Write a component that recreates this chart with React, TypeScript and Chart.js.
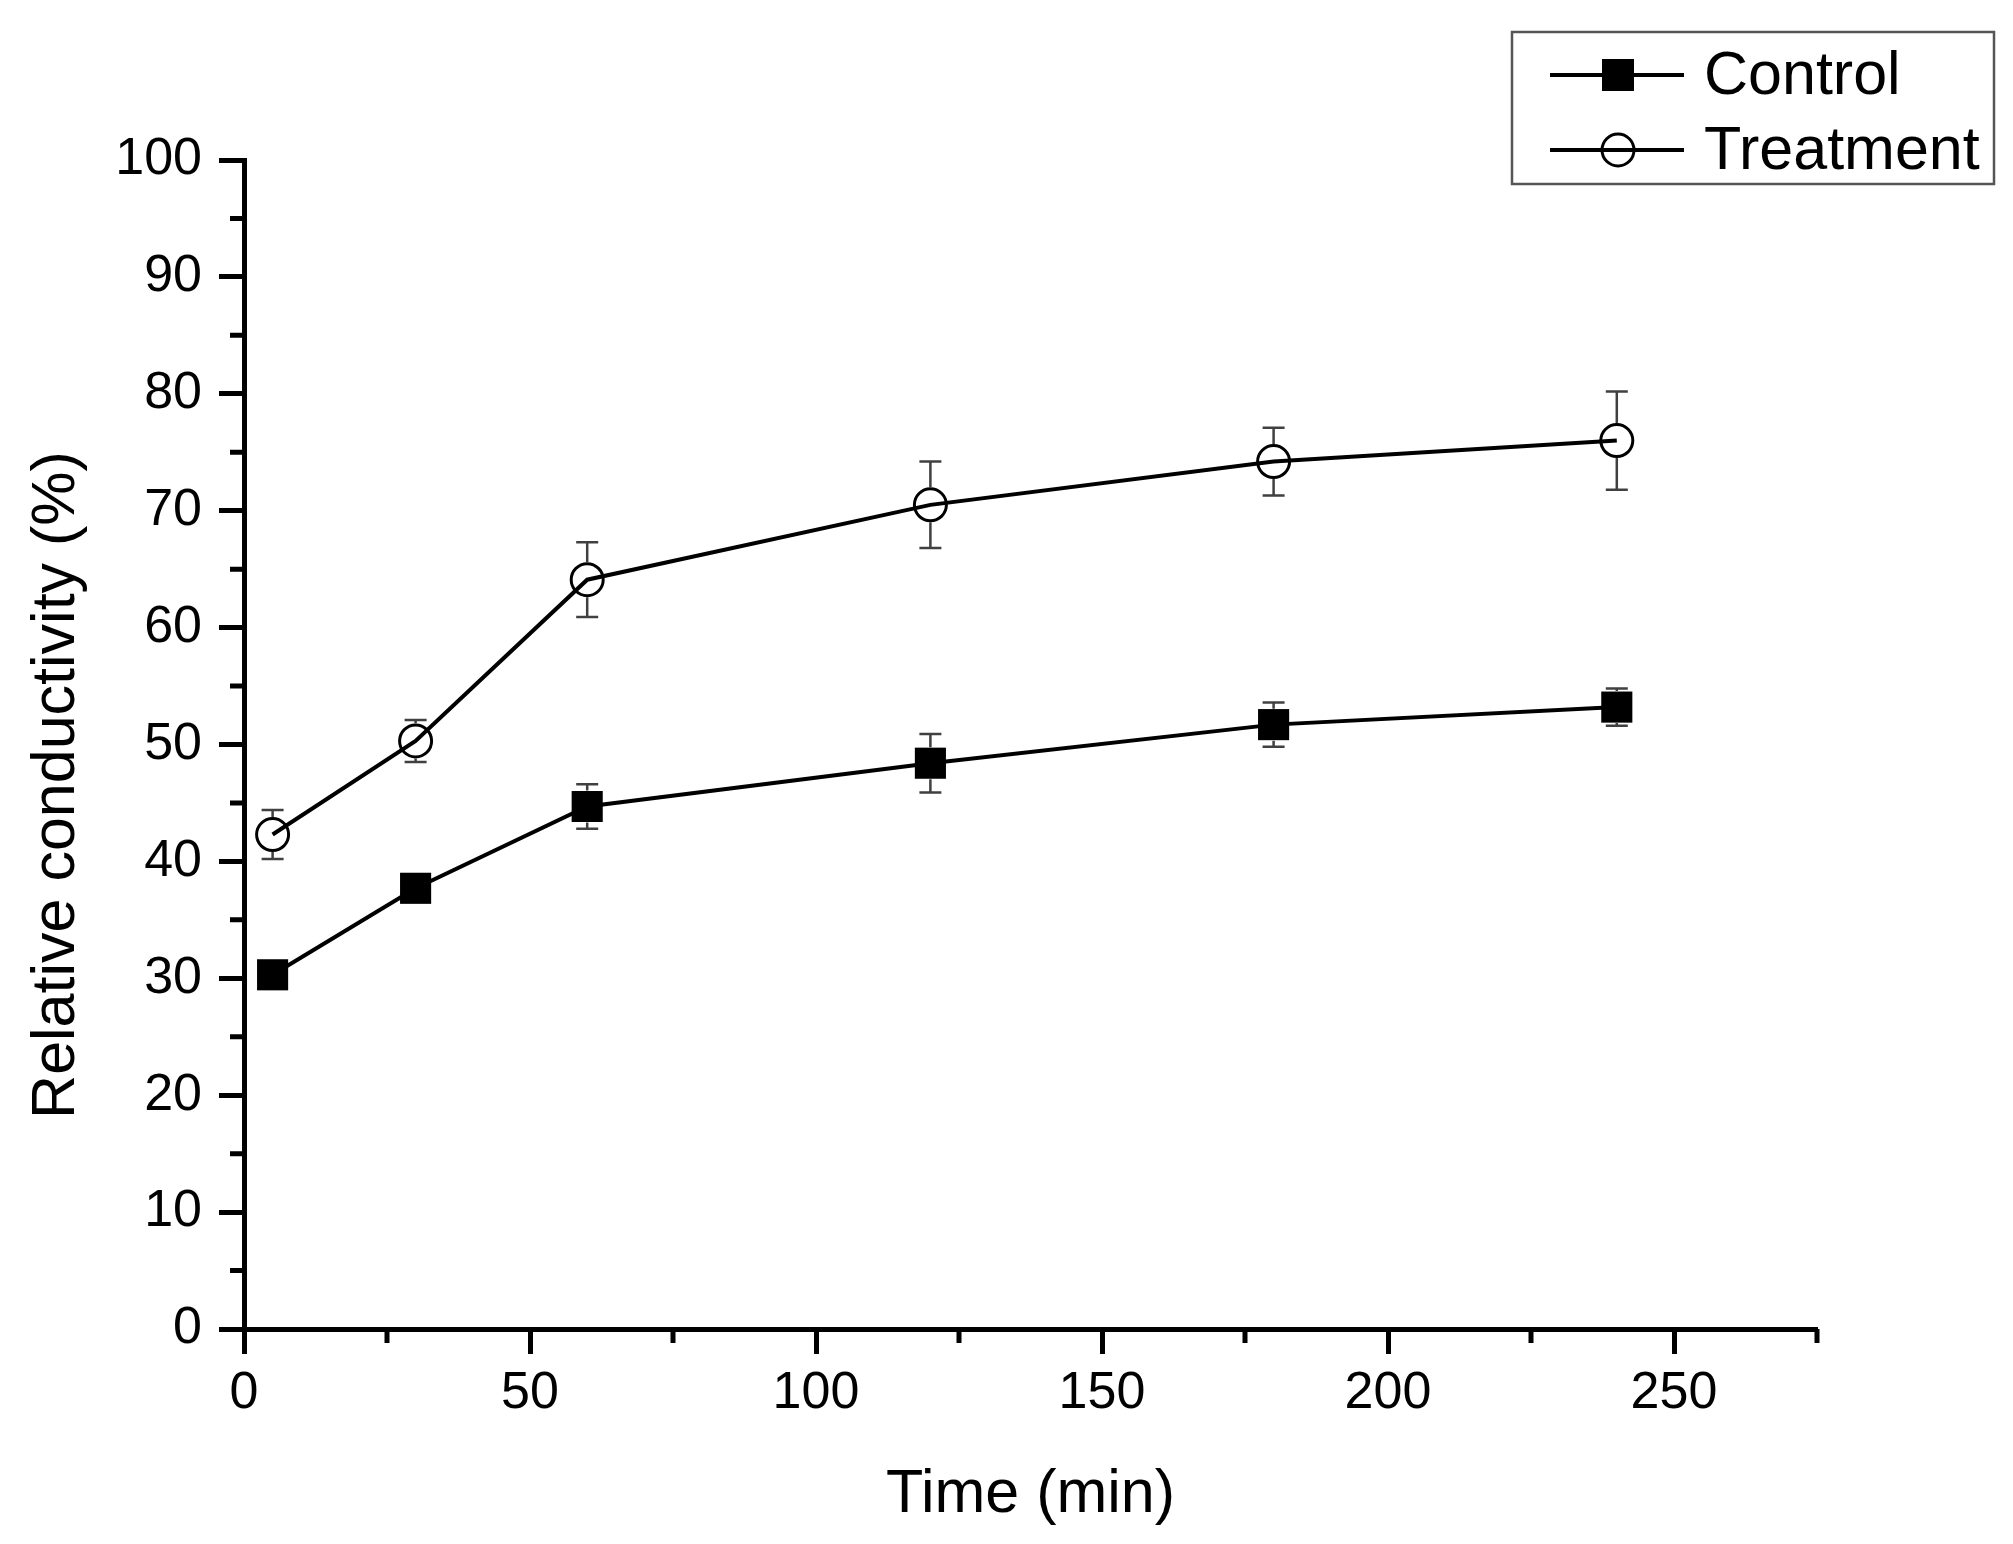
import { useEffect, useRef } from 'react';
import Chart from 'chart.js/auto';

const timePoints = [5, 30, 60, 120, 180, 240];
const controlValues = [30.3, 37.7, 44.7, 48.4, 51.7, 53.2];
const controlErrors = [0.6, 0.8, 1.9, 2.5, 1.9, 1.6];
const treatmentValues = [42.3, 50.3, 64.1, 70.5, 74.2, 76.0];
const treatmentErrors = [2.1, 1.8, 3.2, 3.7, 2.9, 4.2];
const seriesNames = ['Control', 'Treatment'];
const xTitle = 'Time (min)';
const yTitle = 'Relative conductivity (%)';
const xMajorTicks = [0, 50, 100, 150, 200, 250];
const xMinorTicks = [25, 75, 125, 175, 225, 275];
const yMinorTicks = [5, 15, 25, 35, 45, 55, 65, 75, 85, 95];

const FONT = "'Liberation Sans', Arial, sans-serif";
const AXIS_W = 5;

const errorBars = {
  id: 'errorBars',
  afterDatasetsDraw(chart: any) {
    const { ctx } = chart;
    const y = chart.scales.y;
    ctx.save();
    ctx.strokeStyle = '#404040';
    ctx.lineWidth = 2.5;
    chart.data.datasets.forEach((ds: any, i: number) => {
      const meta = chart.getDatasetMeta(i);
      const half = ds.markerHalf;
      meta.data.forEach((pt: any, j: number) => {
        const v = ds.data[j].y;
        const err = ds.errors[j];
        const top = y.getPixelForValue(v + err);
        const bot = y.getPixelForValue(v - err);
        const cap = 11;
        ctx.beginPath();
        if (top < pt.y - half) {
          ctx.moveTo(pt.x, top);
          ctx.lineTo(pt.x, pt.y - half);
          ctx.moveTo(pt.x - cap, top);
          ctx.lineTo(pt.x + cap, top);
        }
        if (bot > pt.y + half) {
          ctx.moveTo(pt.x, pt.y + half);
          ctx.lineTo(pt.x, bot);
          ctx.moveTo(pt.x - cap, bot);
          ctx.lineTo(pt.x + cap, bot);
        }
        ctx.stroke();
      });
    });
    ctx.restore();
  },
};

const extras = {
  id: 'extras',
  afterDraw(chart: any) {
    const { ctx } = chart;
    const xs = chart.scales.x;
    const ys = chart.scales.y;
    const area = chart.chartArea;
    ctx.save();

    // minor ticks
    ctx.strokeStyle = '#000';
    ctx.lineWidth = AXIS_W;
    ctx.beginPath();
    xMinorTicks.forEach((v) => {
      const px = xs.getPixelForValue(v);
      ctx.moveTo(px, area.bottom);
      ctx.lineTo(px, area.bottom + 14);
    });
    yMinorTicks.forEach((v) => {
      const py = ys.getPixelForValue(v);
      ctx.moveTo(area.left, py);
      ctx.lineTo(area.left - 14, py);
    });
    ctx.stroke();

    // axis titles
    ctx.fillStyle = '#000';
    ctx.font = `61px ${FONT}`;
    ctx.textAlign = 'center';
    ctx.textBaseline = 'alphabetic';
    ctx.fillText(xTitle, (area.left + area.right) / 2, 1512);
    ctx.save();
    ctx.translate(74, 785);
    ctx.rotate(-Math.PI / 2);
    ctx.fillText(yTitle, 0, 0);
    ctx.restore();

    // legend
    ctx.strokeStyle = '#555';
    ctx.lineWidth = 2.5;
    ctx.strokeRect(1512, 32, 482, 152);
    const rows = [75, 150];
    chart.data.datasets.forEach((ds: any, i: number) => {
      const ry = rows[i];
      ctx.strokeStyle = '#000';
      ctx.lineWidth = 4;
      ctx.beginPath();
      ctx.moveTo(1550, ry);
      ctx.lineTo(1684, ry);
      ctx.stroke();
      if (ds.pointStyle === 'rect') {
        ctx.fillStyle = '#000';
        ctx.fillRect(1602, ry - 16, 32, 32);
      } else {
        ctx.fillStyle = '#fff';
        ctx.lineWidth = 3;
        ctx.beginPath();
        ctx.arc(1618, ry, 16, 0, Math.PI * 2);
        ctx.stroke();
        ctx.beginPath();
        ctx.moveTo(1550, ry);
        ctx.lineTo(1684, ry);
        ctx.stroke();
      }
      ctx.fillStyle = '#000';
      ctx.font = `61px ${FONT}`;
      ctx.textAlign = 'left';
      ctx.textBaseline = 'middle';
      ctx.fillText(ds.label, 1704, ry + 2);
    });
    ctx.restore();
  },
};

export default function App() {
  const canvasRef = useRef<HTMLCanvasElement | null>(null);

  useEffect(() => {
    if (!canvasRef.current) return;
    const chart = new Chart(canvasRef.current, {
      type: 'line',
      data: {
        datasets: [
          {
            label: seriesNames[0],
            data: timePoints.map((t, i) => ({ x: t, y: controlValues[i] })),
            errors: controlErrors,
            markerHalf: 16,
            borderColor: '#000',
            borderWidth: 4,
            pointStyle: 'rect',
            pointRadius: 22,
            pointBorderWidth: 0,
            pointBackgroundColor: '#000',
            pointBorderColor: '#000',
            tension: 0,
          },
          {
            label: seriesNames[1],
            data: timePoints.map((t, i) => ({ x: t, y: treatmentValues[i] })),
            errors: treatmentErrors,
            markerHalf: 17.5,
            borderColor: '#000',
            borderWidth: 4,
            pointStyle: 'circle',
            pointRadius: 16,
            pointBorderWidth: 3,
            pointBackgroundColor: 'rgba(0,0,0,0)',
            pointBorderColor: '#000',
            tension: 0,
          },
        ] as any,
      },
      options: {
        animation: false,
        responsive: true,
        maintainAspectRatio: false,
        layout: { padding: { left: 0, top: 160, right: 196, bottom: 0 } },
        plugins: {
          legend: { display: false },
          tooltip: { enabled: false },
        },
        scales: {
          x: {
            type: 'linear',
            min: 0,
            max: 275,
            bounds: 'data',
            afterBuildTicks: (s: any) => {
              s.ticks = xMajorTicks.map((v) => ({ value: v }));
            },
            afterFit: (s: any) => {
              s.height = 215;
            },
            ticks: {
              stepSize: 50,
              color: '#000',
              padding: 8,
              font: { family: FONT, size: 52 },
            },
            grid: {
              drawOnChartArea: false,
              drawTicks: true,
              tickLength: 25,
              tickWidth: AXIS_W,
              tickColor: '#000',
            },
            border: { display: true, width: AXIS_W, color: '#000' },
          },
          y: {
            type: 'linear',
            min: 0,
            max: 100,
            afterFit: (s: any) => {
              s.width = 244;
            },
            ticks: {
              stepSize: 10,
              color: '#000',
              padding: 17,
              font: { family: FONT, size: 52 },
            },
            grid: {
              drawOnChartArea: false,
              drawTicks: true,
              tickLength: 25,
              tickWidth: AXIS_W,
              tickColor: '#000',
            },
            border: { display: true, width: AXIS_W, color: '#000' },
          },
        },
      } as any,
      plugins: [errorBars, extras],
    });
    return () => chart.destroy();
  }, []);

  return (
    <div
      style={{
        position: 'fixed',
        left: 0,
        top: 0,
        width: 2013,
        height: 1544,
        background: '#fff',
      }}
    >
      <canvas ref={canvasRef} />
    </div>
  );
}
